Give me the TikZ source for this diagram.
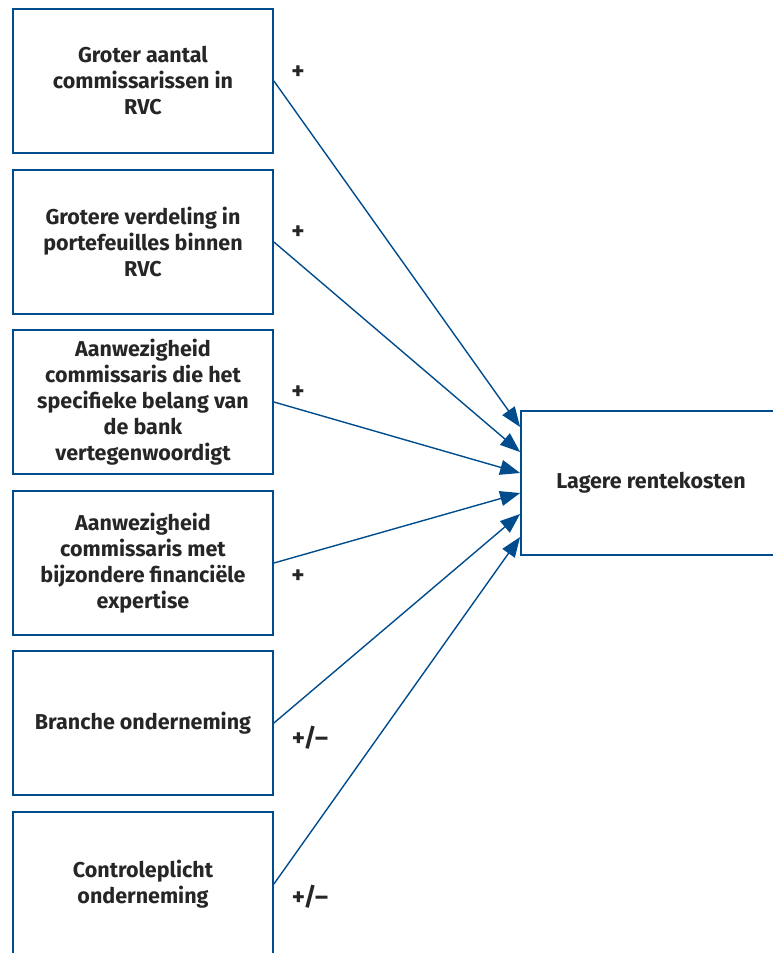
\documentclass[tikz,border=0pt]{standalone}
\usepackage{fontspec}
\setmainfont{Fira Sans}
\usepackage{tikz}
\usetikzlibrary{arrows.meta}
\definecolor{rvcblue}{RGB}{0,76,140}

\begin{document}
\begin{tikzpicture}[x=1pt,y=-1pt,
  box/.style={draw=rvcblue, line width=1.8pt, minimum width=260pt, minimum height=144pt,
    align=center, font=\fontsize{21.5}{26}\selectfont\bfseries, text=black!85},
  link/.style={draw=rvcblue, line width=1.4pt, -{Triangle[length=20pt,width=15pt]}},
  sign/.style={font=\fontsize{25}{26}\selectfont\bfseries, text=black!85}]
\useasboundingbox (0,0) rectangle (773,953);
\clip (0,0) rectangle (773,953);
% factors on the left
\node[box] (rvc) at (143,81) {Groter aantal\\commissarissen in\\RVC};
\node[box] (portf) at (143,242) {Grotere verdeling in\\portefeuilles binnen\\RVC};
\node[box] (belang) at (143,402) {Aanwezigheid\\commissaris die het\\specifieke belang van\\de bank\\vertegenwoordigt};
\node[box] (expert) at (143,563) {Aanwezigheid\\commissaris met\\bijzondere financi\"ele\\expertise};
\node[box] (branche) at (143,723) {Branche onderneming};
\node[box] (controle) at (143,884) {Controleplicht\\onderneming};
% outcome
\node[box] (rente) at (651,483) {Lagere rentekosten};
% connectors
\draw[link] (rvc.east) -- ([yshift=56pt]rente.west);
\draw[link] (portf.east) -- ([yshift=31pt]rente.west);
\draw[link] (belang.east) -- ([yshift=10pt]rente.west);
\draw[link] (expert.east) -- ([yshift=-10pt]rente.west);
\draw[link] (branche.east) -- ([yshift=-31pt]rente.west);
\draw[link] (controle.east) -- ([yshift=-54pt]rente.west);
% signs
\node[sign] (s1) at (298,73) {+};
\node[sign] (s2) at (298,233) {+};
\node[sign] (s3) at (298,393) {+};
\node[sign] (s4) at (298,577) {+};
\node[sign] (s5) at (310,738) {+/--};
\node[sign] (s6) at (310,897) {+/--};
\end{tikzpicture}
\end{document}
